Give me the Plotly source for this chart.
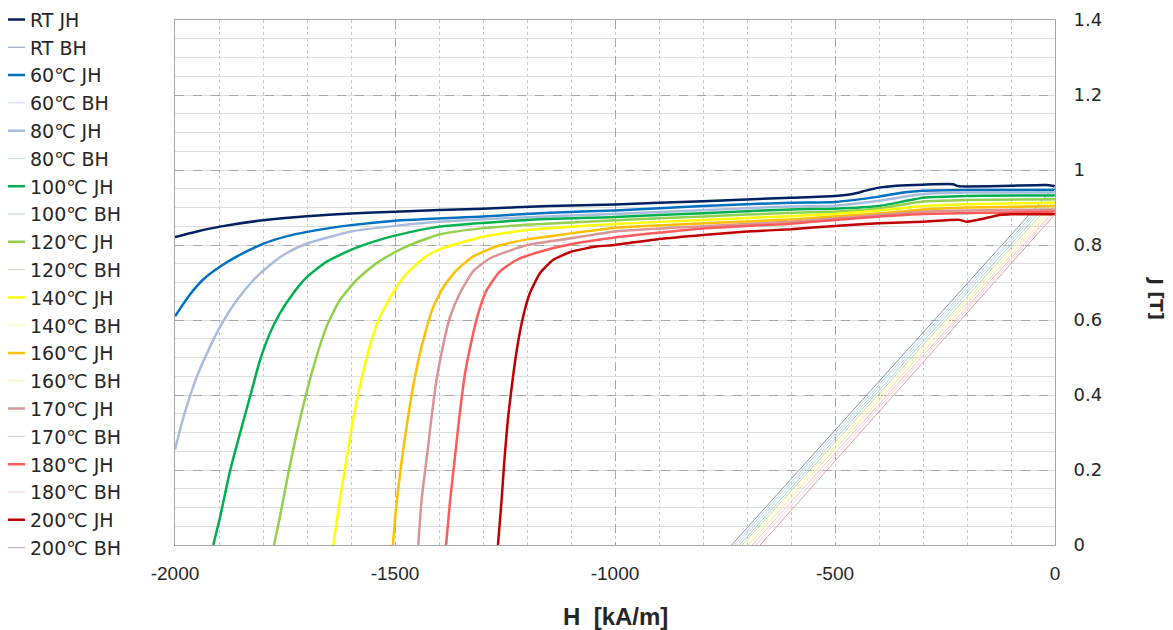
import plotly.graph_objects as go

# ---------------- data ----------------
LABELS = ["RT", "60℃", "80℃", "100℃", "120℃", "140℃", "160℃", "170℃", "180℃", "200℃"]

H_RT = [-2000, -1950, -1898, -1800, -1700, -1600, -1500, -1300, -1148, -1000, -800, -600, -500, -460, -430, -400, -360, -300, -232, -220, -200, -100, -20, 0]
J_RT = [0.821, 0.836, 0.849, 0.866, 0.877, 0.884, 0.889, 0.897, 0.904, 0.908, 0.917, 0.926, 0.931, 0.936, 0.945, 0.953, 0.958, 0.961, 0.962, 0.957, 0.956, 0.958, 0.960, 0.957]

H_60 = [-2000, -1966, -1936, -1898, -1860, -1800, -1747, -1700, -1600, -1500, -1300, -1148, -1000, -800, -600, -500, -400, -345, -300, -200, 0]
J_60 = [0.610, 0.668, 0.708, 0.742, 0.769, 0.803, 0.823, 0.835, 0.853, 0.865, 0.876, 0.886, 0.892, 0.904, 0.913, 0.915, 0.929, 0.940, 0.945, 0.947, 0.947]

H_80 = [-2000, -1981, -1951, -1921, -1898, -1860, -1822, -1785, -1747, -1700, -1600, -1500, -1400, -1200, -1000, -800, -600, -500, -400, -300, -200, 0]
J_80 = [0.255, 0.340, 0.447, 0.527, 0.581, 0.652, 0.706, 0.746, 0.778, 0.804, 0.836, 0.851, 0.862, 0.874, 0.883, 0.893, 0.903, 0.905, 0.918, 0.936, 0.940, 0.940]

H_100 = [-1913, -1898, -1875, -1853, -1830, -1807, -1785, -1762, -1732, -1700, -1656, -1600, -1543, -1500, -1400, -1200, -1000, -800, -600, -500, -400, -345, -300, -200, 0]
J_100 = [0.0, 0.072, 0.197, 0.295, 0.393, 0.492, 0.563, 0.617, 0.670, 0.715, 0.755, 0.787, 0.811, 0.825, 0.849, 0.867, 0.875, 0.885, 0.895, 0.897, 0.904, 0.916, 0.926, 0.931, 0.932]

H_120 = [-1775, -1762, -1743, -1724, -1702, -1679, -1656, -1626, -1588, -1543, -1498, -1470, -1400, -1300, -1200, -1000, -800, -600, -500, -400, -300, -200, 0]
J_120 = [0.0, 0.072, 0.188, 0.295, 0.402, 0.500, 0.581, 0.652, 0.706, 0.751, 0.782, 0.798, 0.828, 0.845, 0.854, 0.866, 0.876, 0.886, 0.889, 0.898, 0.916, 0.920, 0.922]

H_140 = [-1640, -1626, -1611, -1596, -1577, -1558, -1536, -1505, -1475, -1436, -1398, -1300, -1200, -1100, -1000, -800, -600, -500, -400, -300, -200, 0]
J_140 = [0.0, 0.116, 0.223, 0.330, 0.438, 0.527, 0.604, 0.672, 0.722, 0.764, 0.789, 0.822, 0.840, 0.849, 0.856, 0.867, 0.877, 0.883, 0.892, 0.904, 0.909, 0.913]

H_160 = [-1505, -1496, -1485, -1474, -1462, -1447, -1432, -1413, -1390, -1360, -1323, -1270, -1200, -1100, -1000, -800, -600, -500, -400, -300, -200, 0]
J_160 = [0.0, 0.116, 0.223, 0.313, 0.402, 0.492, 0.563, 0.635, 0.688, 0.733, 0.769, 0.796, 0.815, 0.831, 0.846, 0.858, 0.868, 0.876, 0.884, 0.895, 0.900, 0.904]

H_170 = [-1447, -1440, -1428, -1417, -1406, -1390, -1375, -1353, -1323, -1285, -1200, -1100, -1000, -800, -600, -500, -300, 0]
J_170 = [0.0, 0.116, 0.232, 0.340, 0.438, 0.536, 0.608, 0.670, 0.729, 0.764, 0.800, 0.818, 0.836, 0.850, 0.862, 0.871, 0.889, 0.895]

H_180 = [-1384, -1375, -1364, -1353, -1341, -1326, -1311, -1292, -1262, -1224, -1171, -1100, -1000, -800, -600, -500, -400, -300, 0]
J_180 = [0.0, 0.116, 0.232, 0.349, 0.456, 0.545, 0.617, 0.679, 0.729, 0.760, 0.782, 0.802, 0.820, 0.844, 0.857, 0.867, 0.876, 0.883, 0.889]

H_200 = [-1266, -1258, -1251, -1243, -1232, -1221, -1209, -1194, -1171, -1141, -1100, -1043, -1000, -900, -800, -700, -600, -500, -400, -300, -217, -200, -171, -126, -100, 0]
J_200 = [0.0, 0.116, 0.232, 0.340, 0.447, 0.536, 0.608, 0.670, 0.724, 0.760, 0.782, 0.796, 0.800, 0.816, 0.827, 0.836, 0.842, 0.851, 0.858, 0.862, 0.867, 0.862, 0.868, 0.880, 0.882, 0.882]

# B-H lines: H where B = 0, and B at H = 0
BH_H0 = [-735, -729, -723, -717, -711, -704, -697, -688, -680, -670]
BH_BR = [0.957, 0.947, 0.940, 0.932, 0.922, 0.913, 0.904, 0.895, 0.889, 0.882]

X_TICKS = [-2000, -1500, -1000, -500, 0]
X_TICK_TEXT = ["-2000", "-1500", "-1000", "-500", "0"]
Y_TICKS = [0, 0.2, 0.4, 0.6, 0.8, 1.0, 1.2, 1.4]
Y_TICK_TEXT = ["0", "0.2", "0.4", "0.6", "0.8", "1", "1.2", "1.4"]

JH_H = [H_RT, H_60, H_80, H_100, H_120, H_140, H_160, H_170, H_180, H_200]
JH_J = [J_RT, J_60, J_80, J_100, J_120, J_140, J_160, J_170, J_180, J_200]

JH_COLORS = ["#002060", "#0070C0", "#A9BCDC", "#00B050", "#92D050",
             "#FFFF00", "#FFC000", "#D99594", "#FF5B5B", "#C00000"]
BH_COLORS = ["#8497B0", "#BDD7EE", "#C9DDEB", "#A8D8D4", "#C5E0B4",
             "#FFFF99", "#FFE699", "#F2C4CE", "#F8D3D3", "#D9A0A0"]

FONT = "Verdana, DejaVu Sans, sans-serif"
NARROW = "Liberation Sans Narrow, Liberation Sans, Arial, sans-serif"

fig = go.Figure()
for i, lab in enumerate(LABELS):
    fig.add_trace(go.Scatter(
        x=JH_H[i], y=JH_J[i], mode="lines", name=f"{lab} JH",
        legendgroup=f"{lab} JH",
        line=dict(color=JH_COLORS[i], width=2.5, shape="spline", smoothing=0.5),
    ))
    fig.add_trace(go.Scatter(
        x=[BH_H0[i], 0], y=[0, BH_BR[i]], mode="lines", name=f"{lab} BH",
        legendgroup=f"{lab} BH",
        line=dict(color=BH_COLORS[i], width=1),
    ))

fig.update_layout(
    width=1165, height=622,
    margin=dict(l=167, r=118, t=12, b=85, autoexpand=False),
    paper_bgcolor="white", plot_bgcolor="white",
    font=dict(family=FONT, size=17, color="#333333"),
    showlegend=True,
    legend=dict(
        x=-0.2102, xanchor="left", y=1.037, yanchor="top",
        font=dict(family=FONT, size=19, color="#262626"),
        tracegroupgap=0.1, itemwidth=30, bgcolor="rgba(0,0,0,0)",
        maxheight=1.0,
    ),
    xaxis=dict(
        range=[-2000, 0], tickmode="array", tickvals=X_TICKS, ticktext=X_TICK_TEXT,
        showgrid=True, gridcolor="#A6A6A6", griddash="dash", gridwidth=1,
        minor=dict(dtick=100, tick0=0, showgrid=True, gridcolor="#C8C8C8", griddash="dot", gridwidth=1),
        showline=True, linecolor="#A6A6A6", linewidth=1, mirror=True,
        zeroline=False, ticks="", automargin=False,
        tickfont=dict(family=NARROW, size=19, color="#262626"),
        ticklabelstandoff=11,
    ),
    yaxis=dict(
        range=[0, 1.4], tickmode="array", tickvals=Y_TICKS, ticktext=Y_TICK_TEXT, side="right",
        showgrid=True, gridcolor="#A6A6A6", griddash="dash", gridwidth=1,
        minor=dict(dtick=0.05, tick0=0, showgrid=True, gridcolor="#DDDDDD", griddash="solid", gridwidth=1),
        showline=True, linecolor="#A6A6A6", linewidth=1, mirror=True,
        zeroline=False, ticks="", automargin=False,
        tickfont=dict(family=FONT, size=18, color="#262626"),
        ticklabelstandoff=14,
    ),
    annotations=[
        dict(text="<b>H  [kA/m]</b>", xref="paper", yref="paper", x=0.5, y=-0.137,
             xanchor="center", yanchor="middle", showarrow=False,
             font=dict(family=NARROW, size=24, color="#262626")),
        dict(text="<b>J [T]</b>", xref="paper", yref="paper", x=1.116, y=0.47,
             xanchor="center", yanchor="middle", showarrow=False, textangle=90,
             font=dict(family=FONT, size=18, color="#262626")),
    ],
)

fig.write_html("out.html")
